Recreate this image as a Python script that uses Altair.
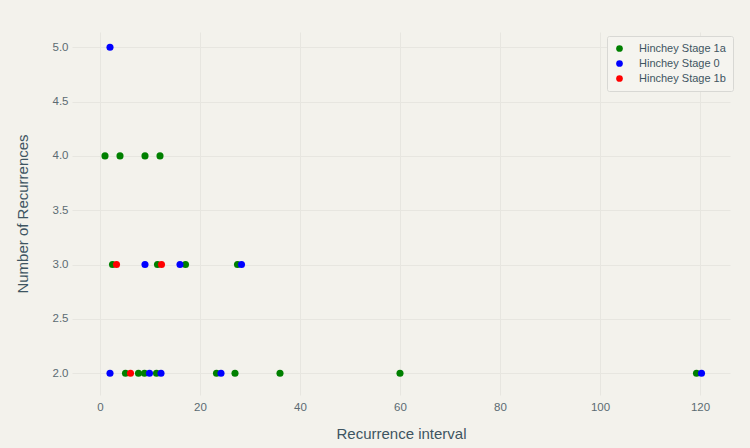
import altair as alt
import pandas as pd

stages = ["Hinchey Stage 1a", "Hinchey Stage 0", "Hinchey Stage 1b"]
colors = ["#008000", "#0000ff", "#ff0000"]

stage1a_x = [1, 4, 9, 12, 2.5, 11.5, 17.1, 27.5, 5.1, 7.7, 8.9, 11.3, 23.3, 27, 36, 60, 119.3]
stage1a_y = [4, 4, 4, 4, 3, 3, 3, 3, 2, 2, 2, 2, 2, 2, 2, 2, 2]
stage0_x = [2, 9, 16, 28.3, 2, 9.9, 12.2, 24.2, 120.3]
stage0_y = [5, 3, 3, 3, 2, 2, 2, 2, 2]
stage1b_x = [3.3, 12.3, 6.1]
stage1b_y = [3, 3, 2]

x_ticks = [0, 20, 40, 60, 80, 100, 120]
y_ticks = [2.0, 2.5, 3.0, 3.5, 4.0, 4.5, 5.0]

rows = []
for name, xs, ys in zip(stages, [stage1a_x, stage0_x, stage1b_x], [stage1a_y, stage0_y, stage1b_y]):
    for xv, yv in zip(xs, ys):
        rows.append({"interval": xv, "recurrences": yv, "stage": name})
df = pd.DataFrame(rows)
df["order"] = range(len(df))

label_color = "#5b6b72"
title_color = "#3e5561"
font = "Liberation Sans"

chart = alt.Chart(df).mark_circle(size=50, opacity=1).encode(
    x=alt.X("interval:Q",
            scale=alt.Scale(domain=[-5.6, 126], nice=False, zero=False),
            axis=alt.Axis(title="Recurrence interval", values=x_ticks, format="d",
                          grid=True, gridColor="#e7e6e0", domain=False, ticks=False,
                          labelColor=label_color, labelFontSize=11.5, labelPadding=6,
                          labelFont=font, titleFont=font, titleFontSize=15,
                          titleFontWeight="normal", titleColor=title_color, titlePadding=14)),
    y=alt.Y("recurrences:Q",
            scale=alt.Scale(domain=[1.8, 5.14], nice=False, zero=False),
            axis=alt.Axis(title="Number of Recurrences", values=y_ticks, format=".1f",
                          grid=True, gridColor="#e7e6e0", domain=False, ticks=False,
                          labelColor=label_color, labelFontSize=11.5, labelPadding=4,
                          labelFont=font, titleFont=font, titleFontSize=15,
                          titleFontWeight="normal", titleColor=title_color, titlePadding=22)),
    color=alt.Color("stage:N",
                    scale=alt.Scale(domain=stages, range=colors),
                    legend=alt.Legend(title=None, orient="none", legendX=535, legendY=4,
                                      symbolType="circle", symbolSize=45, symbolOpacity=1,
                                      labelFont=font, labelFontSize=11, labelColor=title_color,
                                      strokeColor="#d8d8d4", fillColor="#f5f4ef", padding=7,
                                      cornerRadius=2, rowPadding=3, labelOffset=14)),
    order=alt.Order("order:Q"),
).properties(
    width=658, height=363,
    padding={"left": 72, "top": 32, "right": 20, "bottom": 53},
    autosize=alt.AutoSizeParams(type="none"),
    background="#f3f2ec",
).configure_view(stroke=None)

chart.save("out.html", embed_options={"renderer": "svg", "actions": False})
